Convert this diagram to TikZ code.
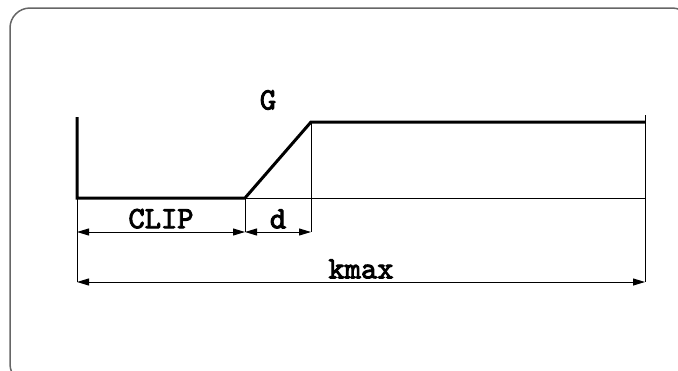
\documentclass[tikz,border=0pt]{standalone}
\usepackage{fontspec}
\setmonofont{lmmono10-regular}[Extension=.otf, AutoFakeBold=3]
\usetikzlibrary{arrows.meta, positioning, calc}
\tikzset{
    frame/.style={
        draw=black!60,
        line width=0.75pt,
        rounded corners=10pt,
    },
    profile/.style={
        line width=1.5pt,
        line join=miter,
    },
    guide/.style={
        line width=0.5pt,
    },
    dim/.style={
        line width=0.5pt,
        {Triangle[length=6pt,width=3.5pt]}-{Triangle[length=6pt,width=3.5pt]},
    },
    lbl/.style={
        font=\ttfamily\bfseries\fontsize{15.5}{18}\selectfont,
        inner sep=1.5pt,
    },
}
\begin{document}
\begin{tikzpicture}[x=0.5pt, y=-0.5pt]
      \useasboundingbox (0,0) rectangle (678,370);
      \draw[frame] (10,8) rectangle (692,384);

      % profile points
      \coordinate (wallTop) at (77,117);
      \coordinate (clipStart) at (77,198);
      \coordinate (rampStart) at (245,198);
      \coordinate (rampEnd) at (311,122);
      \coordinate (kEnd) at (645,122);
      \coordinate (kTop) at (645,115);
      \coordinate (baseEnd) at (645,198);

      % dimension points
      \coordinate (clipA) at (77,232);
      \coordinate (clipB) at (245,232);
      \coordinate (dB) at (311,232);
      \coordinate (kmaxA) at (77,282);
      \coordinate (kmaxB) at (645,282);

      \node [lbl] (G) at (268,100) {G};

      \draw[profile] (wallTop) -- (clipStart) -- (rampStart) -- (rampEnd) -- (kEnd);

      \draw[guide] (rampStart) -- (baseEnd);
      \draw[guide] (kTop) -- (kmaxB);
      \draw[guide] (clipStart) -- (kmaxA);
      \draw[guide] (rampStart) -- (clipB);
      \draw[guide] (rampEnd) -- (dB);

      \path[dim] (clipA) edge node[lbl, above] {CLIP} (clipB);
      \path[dim] (clipB) edge node[lbl, above] {d} (dB);
      \path[dim] (kmaxA) edge node[lbl, above] {kmax} (kmaxB);
\end{tikzpicture}
\end{document}
